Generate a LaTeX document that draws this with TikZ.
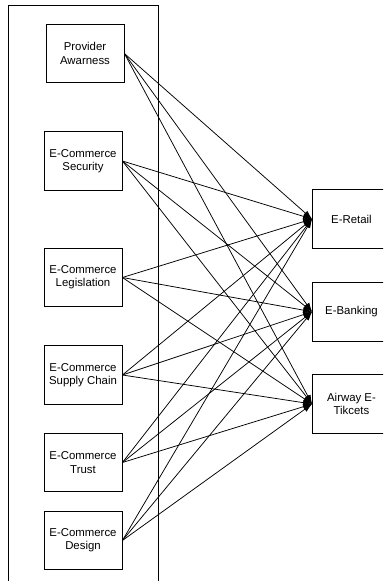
\documentclass[tikz,border=0pt]{standalone}
\usepackage{fontspec}
\setmainfont{Liberation Sans}
\usetikzlibrary{arrows.meta}
\begin{document}
\begin{tikzpicture}[x=1pt,y=-1pt,
  box/.style={draw,line width=0.8pt,minimum width=78pt,minimum height=58.5pt,align=center,inner sep=0pt,
    font=\fontsize{11.4}{13.3}\selectfont},
  link/.style={line width=0.75pt,-{Latex[length=9pt,width=6pt]}},
  frame/.style={line width=0.8pt}]
\clip (0,0) rectangle (383,581);
\draw[frame] (8,590) -- (8,5) -- (158,5) -- (158,590);
% left boxes
\node[box] (pa) at (85,53.5) {Provider\\Awarness};
\node[box] (sec) at (83,161) {E-Commerce\\Security};
\node[box] (leg) at (83,277.5) {E-Commerce\\Legislation};
\node[box] (sup) at (83,375) {E-Commerce\\Supply Chain};
\node[box] (tru) at (83,462.5) {E-Commerce\\Trust};
\node[box] (des) at (83,540.5) {E-Commerce\\Design};
% right boxes
\node[box] (ret) at (351.5,219) {E-Retail};
\node[box] (ban) at (351.5,311.7) {E-Banking};
\node[box] (air) at (351.5,404) {Airway E-\\Tikcets};
% links
\foreach \s in {pa,sec,leg,sup,tru,des}{
  \foreach \t in {ret,ban,air}{
    \draw[link] (\s.east) -- (\t.west);
  }
}
\end{tikzpicture}
\end{document}
